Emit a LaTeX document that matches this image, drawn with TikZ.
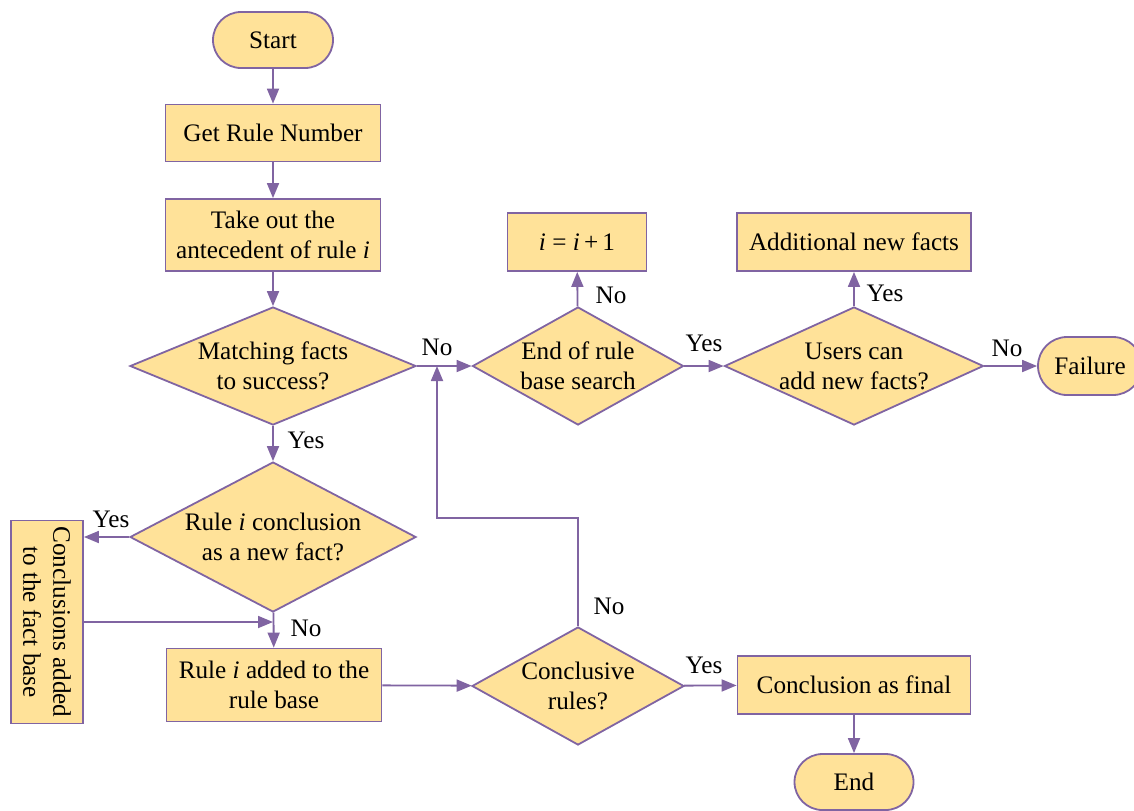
\documentclass[tikz,border=0pt]{standalone}
\usepackage{fontspec}
\setmainfont{Liberation Serif}
\usetikzlibrary{shapes.geometric,arrows.meta}
\definecolor{fillc}{RGB}{255,226,153}
\definecolor{linec}{RGB}{128,100,162}
\begin{document}
\begin{tikzpicture}[x=0.5pt,y=-0.5pt,
 every node/.style={font=\fontsize{12.6}{15}\selectfont},
 base/.style={draw=linec,fill=fillc,line width=0.9pt,inner sep=0pt,align=center},
 proc/.style={base,rectangle},
 term/.style={base,rectangle,rounded corners=14pt},
 dec/.style={base,diamond},
 dtext/.style={inner sep=0pt,align=center},
 arr/.style={draw=linec,line width=0.9pt,-{Triangle[length=7.5pt,width=6pt]}},
 lab/.style={inner sep=0pt}]
\useasboundingbox (0,0) rectangle (1134,810);

\node[term,minimum width=60pt,minimum height=28pt] (start) at (273,40) {Start};
\node[proc,minimum width=107.5pt,minimum height=28.5pt] (get) at (273,133) {Get Rule Number};
\node[proc,minimum width=107.5pt,minimum height=36pt] (take) at (273,235) {Take out the\\antecedent of rule \textit{i}};
\node[dec,minimum width=143pt,minimum height=59pt] (match) at (273,366) {};
\node[dtext] (matcht) at (match) {Matching facts\\to success?};
\node[dec,minimum width=105.5pt,minimum height=59pt] (endr) at (578,366) {};
\node[dtext] (endrt) at (endr) {End of rule\\base search};
\node[proc,minimum width=69.5pt,minimum height=29pt] (inc) at (577,242) {\textit{i} = \textit{i}\,+\,1};
\node[dec,minimum width=129.5pt,minimum height=59pt] (users) at (854,366) {};
\node[dtext] (userst) at (users) {Users can\\add new facts?};
\node[proc,minimum width=117pt,minimum height=29pt] (addf) at (854,242) {Additional new facts};
\node[term,rounded corners=14.5pt,minimum width=52pt,minimum height=29pt] (fail) at (1090,366) {Failure};
\node[dec,minimum width=143pt,minimum height=75pt] (rc) at (273,537) {};
\node[dtext] (rct) at (rc) {Rule \textit{i} conclusion\\as a new fact?};
\node[proc,rotate=-90,minimum width=101.5pt,minimum height=36pt] (conc) at (47,622) {Conclusions added\\to the fact base};
\node[proc,minimum width=107.5pt,minimum height=36.5pt] (radd) at (274,685) {Rule \textit{i} added to the\\rule base};
\node[dec,minimum width=106pt,minimum height=59pt] (cr) at (578,686) {};
\node[dtext] (crt) at (cr) {Conclusive\\rules?};
\node[proc,minimum width=116.5pt,minimum height=29pt] (final) at (854,685) {Conclusion as final};
\node[term,minimum width=59.5pt,minimum height=28pt] (endn) at (854,782) {End};

\coordinate (j) at (437,366);
\coordinate (k) at (437,518);

\draw[arr] (start) -- (get);
\draw[arr] (get) -- (take);
\draw[arr] (take) -- (match);
\draw[arr] (match) -- (endr);
\draw[arr] (match) -- (rc);
\draw[arr] (rc.west) -- (rc.west -| conc.north);
\draw[arr] (rc) -- (radd);
\draw[arr] (conc.north) -- (conc.north -| rc.south);
\draw[arr] (radd) -- (cr);
\draw[arr] (cr.north) |- (k) -- (j);
\draw[arr] (cr) -- (final);
\draw[arr] (final) -- (endn);
\draw[arr] (endr) -- (inc);
\draw[arr] (endr) -- (users);
\draw[arr] (users) -- (addf);
\draw[arr] (users) -- (fail);

\node[lab] (l1) at (437,347) {No};
\node[lab] (l2) at (306,440) {Yes};
\node[lab] (l3) at (111,519) {Yes};
\node[lab] (l4) at (306,628) {No};
\node[lab] (l5) at (609,606) {No};
\node[lab] (l6) at (704,665) {Yes};
\node[lab] (l7) at (611,295) {No};
\node[lab] (l8) at (704,343) {Yes};
\node[lab] (l9) at (885,293) {Yes};
\node[lab] (l10) at (1007,348) {No};
\end{tikzpicture}
\end{document}
